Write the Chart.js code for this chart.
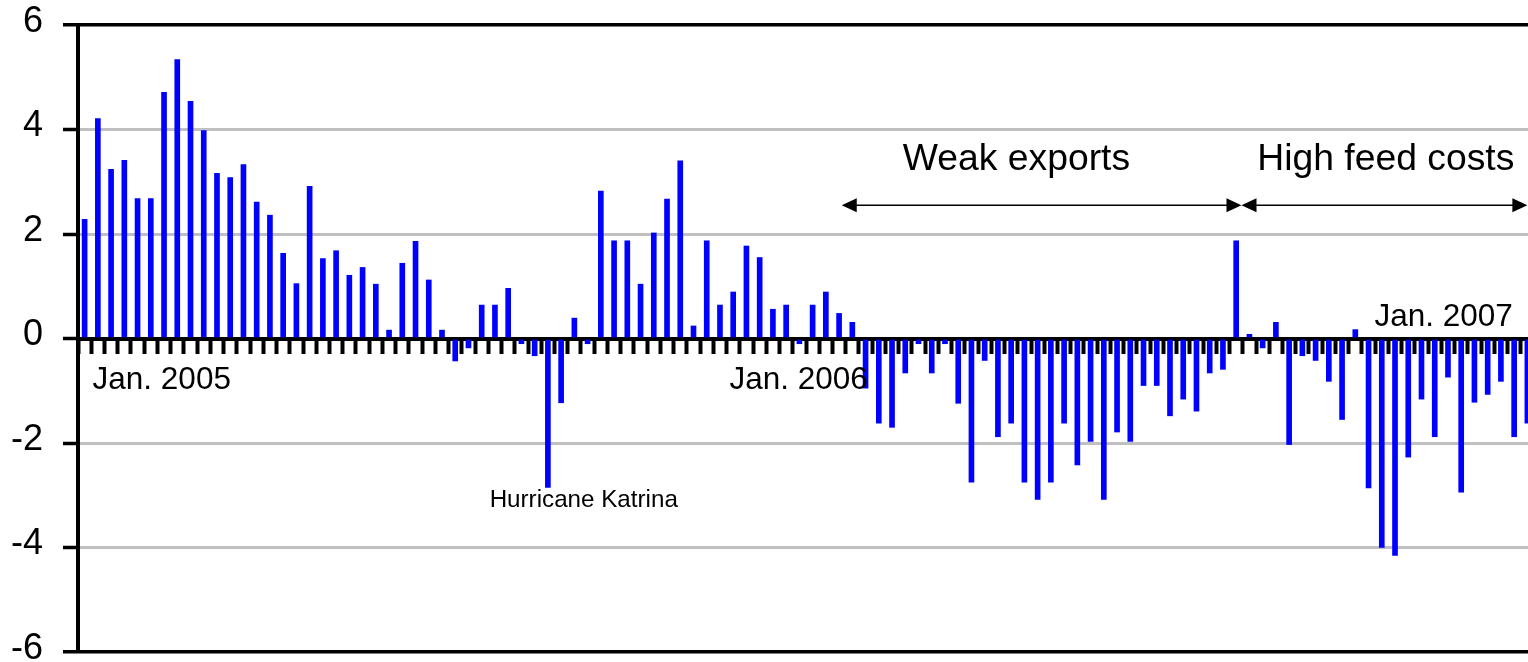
<!DOCTYPE html>
<html>
<head>
<meta charset="utf-8">
<script src="https://cdn.jsdelivr.net/npm/chart.js@4.4.1/dist/chart.umd.min.js"></script>
<style>
  html, body { margin: 0; padding: 0; background: #fff; overflow: hidden; }
  #wrap { width: 1534px; height: 662px; }
</style>
</head>
<body>
<div id="wrap"><canvas id="chart" width="1534" height="662"></canvas></div>
<script>
// weekly change
const beforeArrows = [
  2.28, 4.21, 3.24, 3.41, 2.68, 2.68, 4.71, 5.34, 4.54, 3.98, 3.16, 3.08, 3.33, 2.61, 2.36, 1.63, 1.05, 2.91,
  1.53, 1.68, 1.21, 1.36, 1.04, 0.16, 1.44, 1.86, 1.12, 0.16, -0.43, -0.18, 0.64, 0.64, 0.96, -0.1, -0.33, -2.85, -1.23,
  0.39, -0.1, 2.82, 1.87, 1.87, 1.04, 2.02, 2.67, 3.40, 0.24, 1.87, 0.64, 0.89, 1.77, 1.55, 0.56, 0.64, -0.1, 0.64, 0.89, 0.48
];
const weakExports = [
  0.31, -0.95, -1.62, -1.70, -0.66, -0.1, -0.66, -0.1, -1.24, -2.75, -0.42, -1.88, -1.62, -2.75, -3.08,
  -2.75, -1.62, -2.42, -1.97, -3.08, -1.79, -1.97, -0.9, -0.9, -1.48, -1.16, -1.39, -0.66, -0.59, 1.87
];
const highFeedCosts = [
  0.08, -0.18, 0.31, -2.03, -0.33, -0.42, -0.82, -1.55, 0.17, -2.86, -4.0, -4.15, -2.27, -1.16, -1.88,
  -0.74, -2.94, -1.22, -1.07, -0.82, -1.88, -1.62
];
const yMin = -6, yMax = 6, yStep = 2;

const values = beforeArrows.concat(weakExports, highFeedCosts);
const labels = values.map((v, i) => i);

const FONT = '"Liberation Sans", Arial, sans-serif';

// text notes, placed in data units (category index, value)
const notes = [
  {text: "Jan. 2005", at: 0.6, level: -0.96, size: 31.5, align: "left"},
  {text: "Jan. 2006", at: 48.72, level: -0.96, size: 31.5, align: "left"},
  {text: "Jan. 2007", at: 107.9, level: 0.24, size: 31.5, align: "right"},
  {text: "Hurricane Katrina", at: 30.6, level: -3.22, size: 24.2, align: "left"},
  {text: "Weak exports", at: 70.4, level: 3.22, size: 37.3, align: "center"},
  {text: "High feed costs", at: 98.3, level: 3.22, size: 37.3, align: "center"},
];
const spans = [
  {from: 57.2, to: 87.4, level: 2.55},
  {from: 87.4, to: 109.0, level: 2.55},
];

function arrowHead(ctx, x, y, dir) {
  ctx.beginPath();
  ctx.moveTo(x, y);
  ctx.lineTo(x - dir * 15, y - 7);
  ctx.lineTo(x - dir * 15, y + 7);
  ctx.closePath();
  ctx.fill();
}

const notesPlugin = {
  id: "notes",
  afterDraw(chart) {
    const {ctx, scales: {x, y}} = chart;
    ctx.save();
    ctx.fillStyle = "#000";
    ctx.strokeStyle = "#000";
    ctx.textBaseline = "alphabetic";
    notes.forEach(n => {
      ctx.font = n.size + "px " + FONT;
      ctx.textAlign = n.align;
      ctx.fillText(n.text, x.getPixelForValue(n.at), y.getPixelForValue(n.level));
    });
    ctx.lineWidth = 1.5;
    spans.forEach(s => {
      const x1 = x.getPixelForValue(s.from), x2 = x.getPixelForValue(s.to);
      const yy = y.getPixelForValue(s.level);
      ctx.beginPath();
      ctx.moveTo(x1 + 10, yy);
      ctx.lineTo(x2 - 10, yy);
      ctx.stroke();
      arrowHead(ctx, x1, yy, -1);
      arrowHead(ctx, x2, yy, 1);
    });
    ctx.restore();
  }
};

new Chart(document.getElementById("chart"), {
  type: "bar",
  data: {
    labels,
    datasets: [{
      data: values,
      backgroundColor: "#0000ff",
      borderWidth: 0,
      barThickness: 5,
    }]
  },
  options: {
    responsive: false,
    animation: false,
    events: [],
    layout: {padding: {top: 25, bottom: 10, left: 0, right: 0}},
    plugins: {legend: {display: false}, tooltip: {enabled: false}},
    scales: {
      x: {
        position: {y: 0},
        offset: true,
        z: 1,
        grid: {
          offset: true,
          drawOnChartArea: false,
          drawTicks: true,
          tickLength: 13,
          tickColor: "#000",
          tickWidth: 4,
          color: "#000"
        },
        ticks: {display: false},
        border: {display: true, color: "#000", width: 4},
        afterFit(scale) { scale.height = 0; scale.paddingLeft = 0; scale.paddingRight = 0; }
      },
      y: {
        min: yMin,
        max: yMax,
        ticks: {
          stepSize: yStep,
          color: "#000",
          padding: 20,
          labelOffset: -3,
          font: {family: FONT, size: 36}
        },
        grid: {
          color: c => (Math.abs(c.tick.value) === 6 || c.tick.value === 0) ? "#000" : "#c0c0c0",
          lineWidth: c => (Math.abs(c.tick.value) === 6) ? 3.5 : 3,
          tickColor: "#000",
          tickWidth: 3.5,
          tickLength: 15
        },
        border: {display: true, color: "#000", width: 4},
        afterFit(scale) { scale.width = 78; scale.paddingTop = 0; scale.paddingBottom = 0; }
      }
    }
  },
  plugins: [notesPlugin]
});
</script>
</body>
</html>
